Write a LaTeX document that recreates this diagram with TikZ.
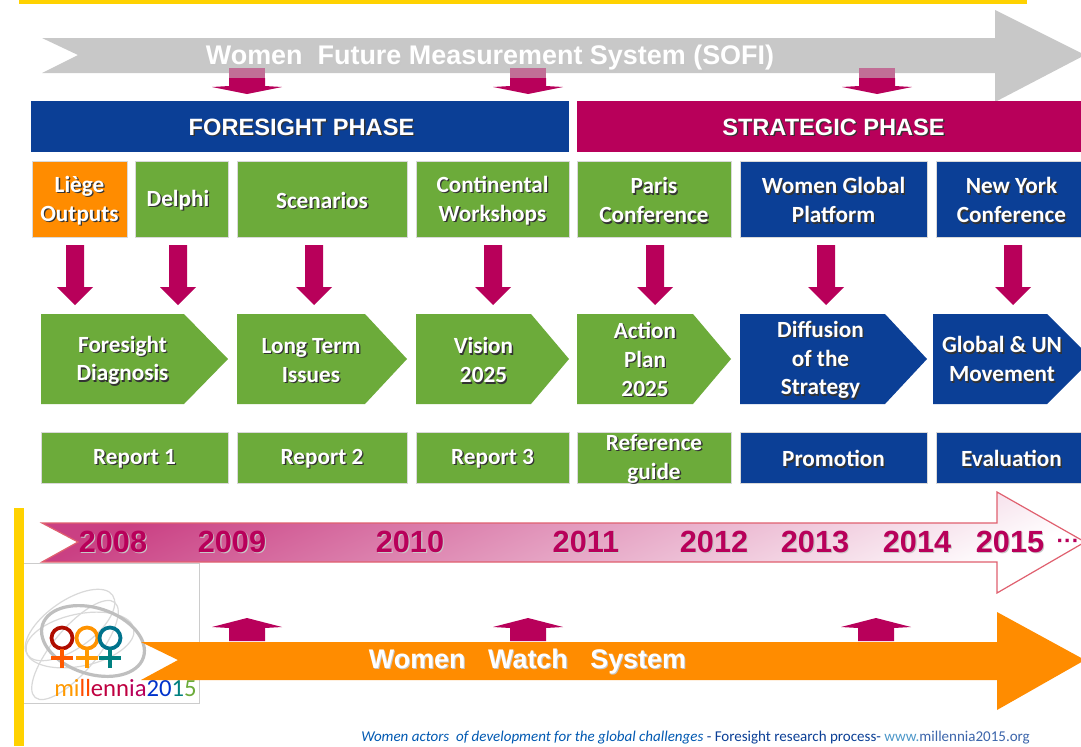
\documentclass[tikz,border=0pt]{standalone}
\usepackage{fontspec}
\setmainfont{Carlito}
\newfontfamily\arialf{Liberation Sans}
\usetikzlibrary{shadings}
\definecolor{fblue}{HTML}{0B3F96}
\definecolor{crim}{HTML}{B8005A}
\definecolor{fgreen}{HTML}{6CAB3A}
\definecolor{forange}{HTML}{FF8C00}
\definecolor{fyellow}{HTML}{FFD200}
\definecolor{fgrey}{HTML}{C8C8C8}
\definecolor{ftline}{HTML}{E0606F}
\newcommand{\sh}[1]{\leavevmode\rlap{\raisebox{-1pt}{\kern1pt\textcolor{black!80}{#1}}}#1}
\newcommand{\shl}[1]{\leavevmode\rlap{\raisebox{-1pt}{\kern0.8pt\textcolor{black!22}{#1}}}#1}
\tikzset{
  boxtext/.style={text=white,align=center,font=\bfseries\fontsize{17.4}{21.7}\selectfont,inner sep=0pt},
  flatbox/.style={draw=white!85!black,line width=0.4pt},
  phasetext/.style={text=white,font=\arialf\bfseries\fontsize{17.7}{20}\selectfont,inner sep=0pt},
  yeartext/.style={text=crim,font=\arialf\bfseries\fontsize{23}{26}\selectfont,inner sep=0pt},
  bannertext/.style={text=white,font=\arialf\bfseries\fontsize{20.2}{22}\selectfont,inner sep=0pt},
  blockred/.style={fill=crim,draw=none},
  logotext/.style={font=\fontsize{18.5}{20}\selectfont,inner sep=0pt},
}
\newcommand{\tbox}[7]{\fill[#5,flatbox] (#1,#2) rectangle (#3,#4);
  \node[boxtext] (#6) at ({(#1+#3)/2},{(#2+#4)/2+2}) {#7};}
\newcommand{\pent}[6]{\fill[#4] (#1,314) -- (#2,314) -- (#3,359) -- (#2,404) -- (#1,404) -- cycle;
  \node[boxtext] (#5) at ({(#1+#2)/2+10},361) {#6};}
\newcommand{\smalldown}[1]{\fill[blockred] (#1-9,245) -- (#1+9,245) -- (#1+9,287) -- (#1+18,287) -- (#1,305) -- (#1-18,287) -- (#1-9,287) -- cycle;}
\newcommand{\bigdown}[1]{\fill[blockred] (#1-18,78) -- (#1+18,78) -- (#1+18,86) -- (#1+35,87) -- (#1,94) -- (#1-35,87) -- (#1-18,86) -- cycle;
  \fill[crim!45!fgrey] (#1-18,68) rectangle (#1+18,78);}
\newcommand{\bigup}[1]{\fill[blockred] (#1-18,641) -- (#1+18,641) -- (#1+18,628) -- (#1+35,627) -- (#1,618) -- (#1-35,627) -- (#1-18,628) -- cycle;}
\newcommand{\venus}[3]{\draw[#2,line width=2.8pt] (#1,638) circle (10.5);
  \draw[#3,line width=3pt] (#1,649) -- (#1,668) (#1-11,658) -- (#1+11,658);}
\begin{document}
\begin{tikzpicture}[x=0.75pt,y=-0.75pt]
\useasboundingbox (0,0) rectangle (1081,746);
\fill[white] (0,0) rectangle (1081,746);
\fill[fyellow] (19,0) rectangle (1027,4);
\fill[fyellow] (14,508) rectangle (24,746);
% grey banner
\fill[fgrey] (42,38) -- (995,38) -- (995,10) -- (1085,55) -- (995,102) -- (995,73) -- (42,73) -- (78,55) -- cycle;
\node[bannertext] (sofi) at (490,58.5) {\shl{Women\ \ Future Measurement System (SOFI)}};
\bigdown{247}\bigdown{528}\bigdown{877}
% phases
\fill[fblue] (31,101) rectangle (569,152);
\node[phasetext] (foresight) at (301.5,128) {\sh{FORESIGHT\ PHASE}};
\fill[crim] (577,101) rectangle (1087,152);
\node[phasetext] (strategic) at (833.5,128) {\sh{STRATEGIC PHASE}};
% row 1
\tbox{32}{161}{127}{237}{forange}{liege}{\sh{Liège}\\\sh{Outputs}}
\fill[fgreen,flatbox] (135,161) rectangle (228,237);
\node[boxtext] (delphi) at (178,201) {\sh{Delphi}};
\tbox{237}{161}{407}{237}{fgreen}{scen}{\sh{Scenarios}}
\tbox{416}{161}{569}{237}{fgreen}{cont}{\sh{Continental}\\\sh{Workshops}}
\tbox{577}{161}{731}{237}{fgreen}{paris}{\sh{Paris}\\\sh{Conference}}
\tbox{740}{161}{927}{237}{fblue}{wgp}{\sh{Women Global}\\\sh{Platform}}
\tbox{936}{161}{1087}{237}{fblue}{nyc}{\sh{New York}\\\sh{Conference}}
% arrows
\smalldown{75}\smalldown{178}\smalldown{314}\smalldown{493}\smalldown{655}\smalldown{826}\smalldown{1013}
% pentagons
\pent{41}{184}{228}{fgreen}{fd}{\sh{Foresight}\\\sh{Diagnosis}}
\pent{237}{365}{407}{fgreen}{lt}{\sh{Long Term}\\\sh{Issues}}
\pent{416}{531}{569}{fgreen}{vis}{\sh{Vision}\\\sh{2025}}
\fill[fgreen] (577,314) -- (693,314) -- (731,359) -- (693,404) -- (577,404) -- cycle;
\node[boxtext] (ap) at (645,360) {\sh{Action}\\\sh{Plan}\\\sh{2025}};
\fill[fblue] (740,314) -- (885,314) -- (927,359) -- (885,404) -- (740,404) -- cycle;
\node[boxtext] (dif) at (820.5,360.5) {\sh{Diffusion}\\\sh{of the}\\\sh{Strategy}};
\fill[fblue] (933,314) -- (1047,314) -- (1092,359) -- (1047,404) -- (933,404) -- cycle;
\node[boxtext] (glob) at (1002,360) {\sh{Global \& UN}\\\sh{Movement}};
% reports
\tbox{41}{432}{228}{483}{fgreen}{r1}{\sh{Report 1}}
\tbox{237}{432}{407}{483}{fgreen}{r2}{\sh{Report 2}}
\tbox{416}{432}{569}{483}{fgreen}{r3}{\sh{Report 3}}
\tbox{577}{432}{731}{483}{fgreen}{rg}{\sh{Reference}\\\sh{guide}}
\tbox{740}{432}{927}{483}{fblue}{pro}{\sh{Promotion}}
\tbox{936}{432}{1087}{483}{fblue}{eva}{\sh{Evaluation}}
% timeline
\shade[left color=crim!75!white,right color=white,shading angle=25,draw=ftline,line width=0.9pt]
  (42,523) -- (997,523) -- (997,492) -- (1085,542) -- (997,593) -- (997,562) -- (42,562) -- (78,542) -- cycle;
\foreach \yx/\yr/\nm in {113/2008/ya,232/2009/yb,410/2010/yc,586/2011/yd,714/2012/ye,815/2013/yf,917/2014/yg,1010/2015/yh}
  \node[yeartext] (\nm) at (\yx,542.5) {\shl{\yr}};
\node[yeartext,font=\arialf\bfseries\fontsize{17}{20}\selectfont] (dots) at (1068,544) {\textperiodcentered\textperiodcentered\textperiodcentered};
% logo
\draw[black!20,fill=white,line width=0.5pt] (24,563) -- (199,563) -- (199,703) -- (24,703);
\begin{scope}[black!15,line width=0.9pt]
  \draw[rotate around={35:(70,625)}] (70,625) ellipse (52 and 24);
  \draw[rotate around={12:(80,640)}] (80,640) ellipse (55 and 26);
  \draw[rotate around={50:(75,650)}] (75,650) ellipse (62 and 22);
\end{scope}
\draw[black!25,line width=2.4pt,rotate around={-18:(93,641)}] (93,641) ellipse (53 and 33);
\venus{62}{red!65!black!90!orange}{orange!70!red}
\venus{87}{orange!85!yellow}{orange!80!yellow}
\venus{110}{blue!55!green}{teal}
\node[logotext,anchor=base west] (logo) at (54,696) {\textcolor{orange!80!yellow}{mi}\textcolor{orange!60!red}{ll}\textcolor{purple}{enn}\textcolor{crim}{ia}\textcolor{blue!60!teal}{20}\textcolor{teal}{1}\textcolor{fgreen}{5}};
% orange arrow
\fill[forange] (141,642) -- (997,642) -- (997,612) -- (1085,660) -- (997,710) -- (997,680) -- (141,680) -- (178,660) -- cycle;
\node[bannertext] (watch) at (527.5,662) {\shl{Women\ \ \ Watch\ \ \ System}};
\bigup{247}\bigup{528}\bigup{876}
% footer
\node[anchor=base west,inner sep=0pt,font=\fontsize{11.25}{13}\selectfont] (foot) at (361,741)
  {\textcolor{blue!50!cyan!70!black}{\itshape Women actors\ \ of development for the global challenges} \textcolor{fblue}{- Foresight research process-} \textcolor{blue!40!cyan!70!black!70}{www.}\textcolor{fblue!80}{millennia2015.org}};
\end{tikzpicture}
\end{document}
